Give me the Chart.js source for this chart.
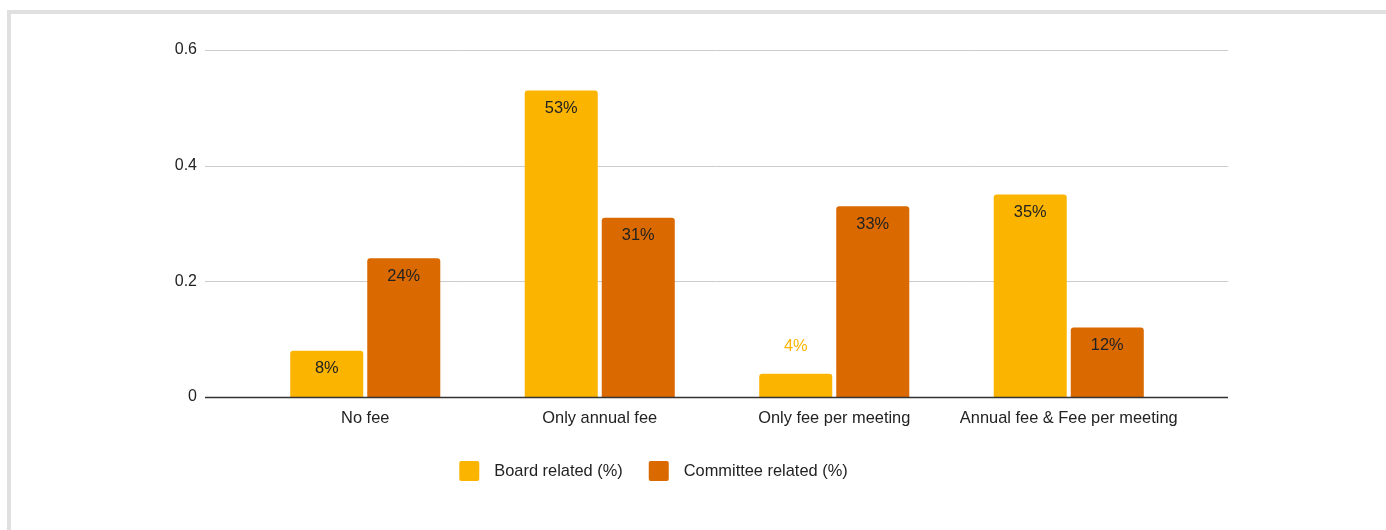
<!DOCTYPE html>
<html>
<head>
<meta charset="utf-8">
<title>Fee structure</title>
<script src="https://cdn.jsdelivr.net/npm/chart.js@4/dist/chart.umd.min.js"></script>
<style>
  html, body { margin: 0; padding: 0; background: #ffffff; overflow: hidden; }
  #frame {
    position: absolute; left: 7px; top: 10px; right: -10px; bottom: -10px;
    border-left: 4px solid #e0e0e0; border-top: 4px solid #e0e0e0;
  }
  #wrap { position: absolute; left: 0; top: 0; width: 1386px; height: 530px; }
</style>
</head>
<body>
<div id="frame"></div>
<div id="wrap"><canvas id="chart" width="1386" height="530"></canvas></div>
<script>
// Fee categories and the share of companies in each
const categories = ['No fee', 'Only annual fee', 'Only fee per meeting', 'Annual fee & Fee per meeting'];
const boardRelated = [0.08, 0.53, 0.04, 0.35];
const committeeRelated = [0.24, 0.31, 0.33, 0.12];
const seriesNames = ['Board related (%)', 'Committee related (%)'];
const yTickValues = [0, 0.2, 0.4, 0.6];
const yTickLabels = ['0', '0.2', '0.4', '0.6'];

const BOARD_COLOR = '#fbb400';
const COMMITTEE_COLOR = '#da6900';
const FONT = '"Liberation Sans", Arial, Helvetica, sans-serif';
const TEXT_SIZE = 16.4;

// Horizontal gridlines and baseline, running a little past the plot area
const gridPlugin = {
  id: 'extendedGrid',
  beforeDatasetsDraw(chart) {
    const y = chart.scales.y;
    const area = chart.chartArea;
    const ctx = chart.ctx;
    const left = area.left - 43, right = area.right + 42;
    ctx.save();
    y.ticks.forEach(t => {
      const py = Math.round(y.getPixelForValue(t.value)) + 0.5;
      ctx.beginPath();
      ctx.strokeStyle = t.value === 0 ? '#333333' : '#cccccc';
      ctx.lineWidth = 1;
      ctx.moveTo(left, py);
      ctx.lineTo(right, py);
      ctx.stroke();
    });
    ctx.restore();
  },
  afterDatasetsDraw(chart) {
    // redraw the baseline over the bars' bottom edge
    const y = chart.scales.y;
    const area = chart.chartArea;
    const ctx = chart.ctx;
    const py = Math.round(y.getPixelForValue(0)) + 0.5;
    ctx.save();
    ctx.strokeStyle = '#333333';
    ctx.lineWidth = 1.4;
    ctx.beginPath();
    ctx.moveTo(area.left - 43, py);
    ctx.lineTo(area.right + 42, py);
    ctx.stroke();
    ctx.restore();
  }
};

// Percentage labels: inside the bar top, or above it in the bar colour when the bar is short
const valueLabelPlugin = {
  id: 'valueLabels',
  afterDatasetsDraw(chart) {
    const ctx = chart.ctx;
    ctx.save();
    ctx.font = TEXT_SIZE + 'px ' + FONT;
    ctx.textAlign = 'center';
    ctx.textBaseline = 'middle';
    chart.data.datasets.forEach((ds, di) => {
      const meta = chart.getDatasetMeta(di);
      meta.data.forEach((bar, i) => {
        const v = ds.data[i];
        const text = Math.round(v * 100) + '%';
        const h = bar.base - bar.y;
        if (h > 32) {
          ctx.fillStyle = '#222222';
          ctx.fillText(text, bar.x, bar.y + 18);
        } else {
          ctx.fillStyle = ds.backgroundColor;
          ctx.fillText(text, bar.x, bar.y - 27);
        }
      });
    });
    ctx.restore();
  }
};

// Legend row under the axis labels
const legendPlugin = {
  id: 'bottomLegend',
  afterDraw(chart, args, opts) {
    const ctx = chart.ctx;
    ctx.save();
    ctx.font = TEXT_SIZE + 'px ' + FONT;
    ctx.textBaseline = 'middle';
    ctx.textAlign = 'left';
    const box = 20, boxGap = 15, itemGap = 26;
    const items = chart.data.datasets.map(ds => ({
      label: ds.label, color: ds.backgroundColor, w: ctx.measureText(ds.label).width
    }));
    let total = 0;
    items.forEach((it, i) => { total += box + boxGap + it.w + (i ? itemGap : 0); });
    let x = opts.centerX - total / 2;
    const cy = opts.centerY;
    items.forEach(it => {
      ctx.fillStyle = it.color;
      ctx.beginPath();
      ctx.roundRect(x, cy - box / 2, box, box, 2);
      ctx.fill();
      ctx.fillStyle = '#222222';
      ctx.fillText(it.label, x + box + boxGap, cy + 0.5);
      x += box + boxGap + it.w + itemGap;
    });
    ctx.restore();
  }
};

new Chart(document.getElementById('chart'), {
  type: 'bar',
  data: {
    labels: categories,
    datasets: [
      {
        label: seriesNames[0],
        data: boardRelated,
        backgroundColor: BOARD_COLOR,
        borderRadius: 3,
        borderSkipped: 'start',
        categoryPercentage: 0.657,
        barPercentage: 0.948
      },
      {
        label: seriesNames[1],
        data: committeeRelated,
        backgroundColor: COMMITTEE_COLOR,
        borderRadius: 3,
        borderSkipped: 'start',
        categoryPercentage: 0.657,
        barPercentage: 0.948
      }
    ]
  },
  options: {
    responsive: false,
    animation: false,
    events: [],
    layout: { padding: { left: 0, right: 200, top: 50, bottom: 93 } },
    scales: {
      x: {
        grid: { display: false, drawTicks: false },
        border: { display: false },
        ticks: {
          color: '#222222',
          font: { family: FONT, size: TEXT_SIZE },
          padding: 12,
          maxRotation: 0,
          autoSkip: false
        },
        afterFit(scale) { scale.height = 40; }
      },
      y: {
        min: 0,
        max: 0.6,
        grid: { display: false, drawTicks: false },
        border: { display: false },
        afterBuildTicks(scale) {
          scale.ticks = yTickValues.map(v => ({ value: v }));
        },
        ticks: {
          color: '#222222',
          font: { family: FONT, size: 16 },
          padding: 51,
          callback(value) {
            const i = yTickValues.indexOf(value);
            return i >= 0 ? yTickLabels[i] : '';
          }
        },
        afterFit(scale) {
          scale.width = 248;
          scale.paddingTop = 0;
          scale.paddingBottom = 0;
        }
      }
    },
    plugins: {
      legend: { display: false },
      tooltip: { enabled: false },
      bottomLegend: { centerX: 653.5, centerY: 471 }
    }
  },
  plugins: [gridPlugin, valueLabelPlugin, legendPlugin]
});
</script>
</body>
</html>
